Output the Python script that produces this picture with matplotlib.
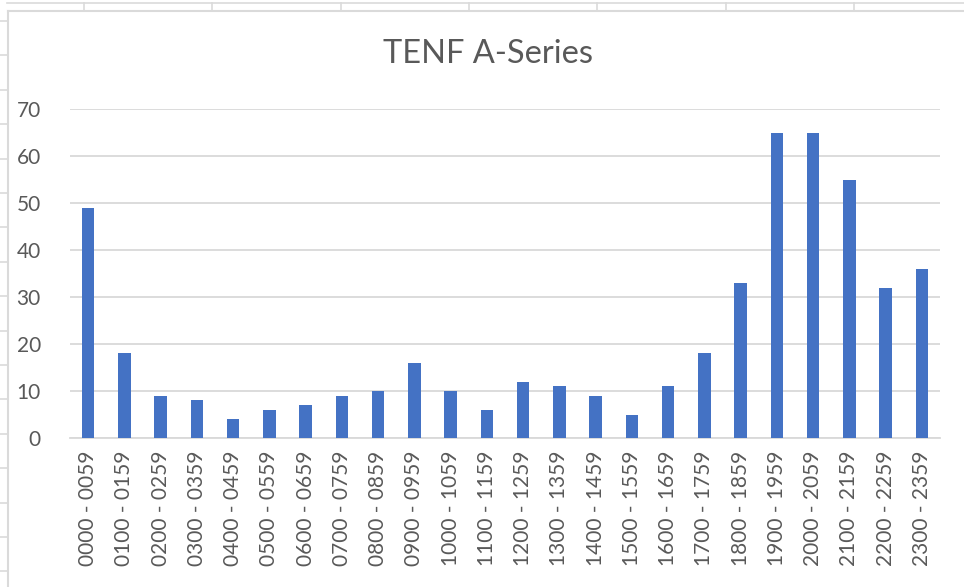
import matplotlib
matplotlib.use("Agg")
import matplotlib.pyplot as plt
from matplotlib.lines import Line2D


HOURS = [
    "0000 - 0059", "0100 - 0159", "0200 - 0259", "0300 - 0359",
    "0400 - 0459", "0500 - 0559", "0600 - 0659", "0700 - 0759",
    "0800 - 0859", "0900 - 0959", "1000 - 1059", "1100 - 1159",
    "1200 - 1259", "1300 - 1359", "1400 - 1459", "1500 - 1559",
    "1600 - 1659", "1700 - 1759", "1800 - 1859", "1900 - 1959",
    "2000 - 2059", "2100 - 2159", "2200 - 2259", "2300 - 2359",
]
COUNTS = [49, 18, 9, 8, 4, 6, 7, 9, 10, 16, 10, 6,
          12, 11, 9, 5, 11, 18, 33, 65, 65, 55, 32, 36]
Y_TICKS = [0, 10, 20, 30, 40, 50, 60, 70]

TITLE = "TENF A-Series"
BAR_COLOR = "#4472C4"
GRID_COLOR = "#D9D9D9"
TEXT_COLOR = "#595959"
SHEET_COLOR = "#DADADA"

W, H = 964, 587

plt.rcParams["font.family"] = ["Lato", "DejaVu Sans"]

fig = plt.figure(figsize=(W / 100, H / 100), dpi=100)
fig.patch.set_facecolor("white")


def px_line(x0, y0, x1, y1, lw=1.2):
    # pixel coords (origin top-left) -> figure fraction
    fig.add_artist(Line2D([x0 / W, x1 / W], [1 - y0 / H, 1 - y1 / H],
                          color=SHEET_COLOR, linewidth=lw))


# spreadsheet cell lines around the chart
px_line(7, 2.5, W, 2.5)
for x in [84, 212, 341, 469, 597, 726, 854]:
    px_line(x, 2.5, x, 11)
px_line(7.5, 11, W, 11, lw=1.5)
px_line(7.5, 11, 7.5, H, lw=1.5)
y = 21
while y < H:
    px_line(0, y, 7.5, y)
    y += 34.4

ax = fig.add_axes([70 / W, 1 - 438 / H, 870 / W, 329 / H])
positions = list(range(len(HOURS)))
ax.bar(positions, COUNTS, width=0.34, color=BAR_COLOR, zorder=3)

ax.set_xlim(-0.5, len(HOURS) - 0.5)
ax.set_ylim(0, 70)
ax.set_yticks(Y_TICKS)
ax.set_xticks(positions, HOURS, rotation=90)
ax.yaxis.grid(True, color=GRID_COLOR, linewidth=1.3, zorder=0)
ax.set_axisbelow(True)
for side in ["left", "right", "top"]:
    ax.spines[side].set_visible(False)
ax.spines["bottom"].set_color(GRID_COLOR)
ax.spines["bottom"].set_linewidth(1.3)
ax.tick_params(axis="both", length=0, labelsize=15, labelcolor=TEXT_COLOR)
ax.tick_params(axis="y", pad=21)
ax.tick_params(axis="x", pad=9)

fig.text(488 / W, 1 - 54 / H, TITLE, ha="center", va="center",
         fontsize=23.5, color=TEXT_COLOR)

fig.savefig("out.png", dpi=100)
